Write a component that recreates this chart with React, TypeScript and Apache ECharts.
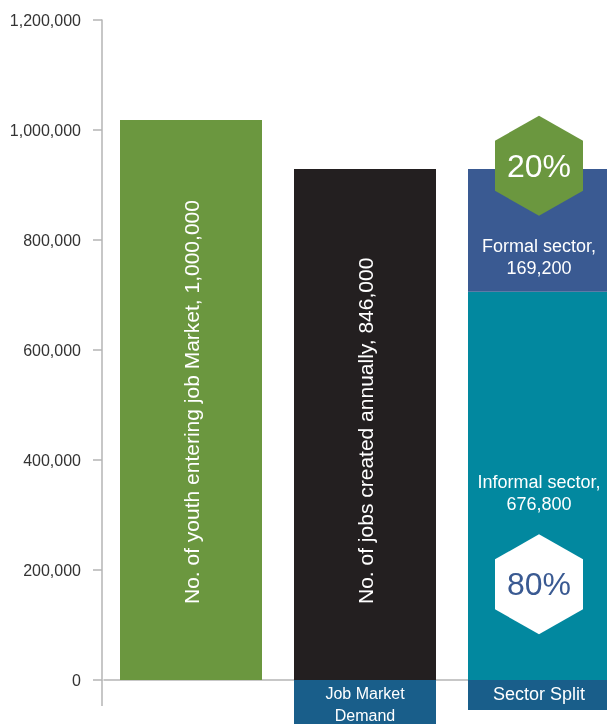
import React, { useEffect, useRef } from "react";
import * as echarts from "echarts";

// ---- data ----
const categories = ["Youth", "Job Market Demand", "Sector Split"];
const xLabelLines: string[][] = [[], ["Job Market", "Demand"], ["Sector Split"]];
const totalValues = [1018000, 929000]; // bar heights as drawn
const totalLabels = [
  "No. of youth entering job Market, 1,000,000",
  "No. of jobs created annually, 846,000",
];
const informalValue = 706000;
const formalValue = 223000;
const informalLabel = ["Informal sector,", "676,800"];
const formalLabel = ["Formal sector,", "169,200"];
const hexValues = [935000, 174000];
const hexLabels = ["20%", "80%"];
const yTicks = { min: 0, max: 1200000, interval: 200000 };

const GREEN = "#6b973f";
const BLACK = "#231f20";
const FORMAL = "#3a5a92";
const INFORMAL = "#02889f";
const BOX = "#195e8a";
const AXIS = "#b5b5b5";
const FONT = "'Liberation Sans', Arial, Helvetica, sans-serif";
const HEX = "path://M0,-50 L43.3,-25 L43.3,25 L0,50 L-43.3,25 L-43.3,-25 Z";

const GRID_LEFT = 104;
const Y_OFFSET = 2;

export default function App() {
  const ref = useRef<HTMLDivElement>(null);
  useEffect(() => {
    if (!ref.current) return;
    const chart = echarts.init(ref.current, null, { renderer: "svg" });
    const barColors = [GREEN, BLACK];
    const option: any = {
      animation: false,
      textStyle: { fontFamily: FONT },
      grid: {
        left: GRID_LEFT,
        right: 607 - (GRID_LEFT + 522),
        top: 20,
        bottom: 44,
        containLabel: false,
        outerBoundsMode: "none",
      },
      xAxis: {
        type: "category",
        data: categories,
        axisLine: { show: true, lineStyle: { color: AXIS, width: 1.5 } },
        axisTick: { show: false },
        axisLabel: {
          interval: 0,
          margin: 0,
          formatter: (v: string) => {
            const i = categories.indexOf(v);
            const lines = xLabelLines[i] || [];
            if (lines.length === 0) return "";
            if (lines.length === 1) return `{b|${lines[0]}}`;
            return `{a|${lines[0]}}\n{c|${lines[1]}}`;
          },
          rich: {
            a: { width: 142, height: 26, lineHeight: 26, backgroundColor: BOX, color: "#fff", fontSize: 16, align: "center", fontFamily: FONT },
            c: { width: 142, height: 18, lineHeight: 18, backgroundColor: BOX, color: "#fff", fontSize: 16, align: "center", fontFamily: FONT },
            b: { width: 142, height: 32, lineHeight: 28, backgroundColor: BOX, color: "#fff", fontSize: 18, align: "center", fontFamily: FONT },
          },
        },
      },
      yAxis: {
        type: "value",
        min: yTicks.min,
        max: yTicks.max,
        interval: yTicks.interval,
        offset: Y_OFFSET,
        splitLine: { show: false },
        axisLine: { show: true, lineStyle: { color: AXIS, width: 1.5 } },
        axisTick: { show: true, length: 9, lineStyle: { color: AXIS, width: 1.5 } },
        axisLabel: {
          margin: 21,
          color: "#333",
          fontSize: 16,
          fontFamily: FONT,
          formatter: (v: number) => v.toLocaleString("en-US"),
        },
      },
      series: [
        {
          type: "bar",
          barWidth: 142,
          barGap: "-100%",
          data: [
            ...totalValues.map((v, i) => ({
              value: v,
              itemStyle: { color: barColors[i] },
              label: {
                show: true,
                position: "insideBottom",
                distance: 76,
                rotate: 90,
                align: "left",
                verticalAlign: "middle",
                color: "#fff",
                fontSize: 21,
                fontFamily: FONT,
                formatter: totalLabels[i],
              },
            })),
            "-",
          ],
        },
        {
          type: "bar",
          stack: "split",
          barWidth: 142,
          barGap: "-100%",
          itemStyle: { color: INFORMAL },
          label: {
            show: true,
            position: ["50%", 201],
            align: "center",
            verticalAlign: "middle",
            color: "#fff",
            fontSize: 18,
            lineHeight: 22,
            fontFamily: FONT,
            formatter: informalLabel.join("\n"),
          },
          data: ["-", "-", informalValue],
        },
        {
          type: "bar",
          stack: "split",
          barWidth: 142,
          barGap: "-100%",
          itemStyle: { color: FORMAL },
          label: {
            show: true,
            position: ["50%", 88],
            align: "center",
            verticalAlign: "middle",
            color: "#fff",
            fontSize: 18,
            lineHeight: 22,
            fontFamily: FONT,
            formatter: formalLabel.join("\n"),
          },
          data: ["-", "-", formalValue],
        },
        {
          type: "scatter",
          z: 5,
          symbol: HEX,
          symbolSize: [88, 100],
          symbolKeepAspect: false,
          data: [
            {
              value: [categories[2], hexValues[0]],
              itemStyle: { color: GREEN, opacity: 1 },
              label: { show: true, position: "inside", formatter: hexLabels[0], color: "#fff", fontSize: 32, fontFamily: FONT },
            },
            {
              value: [categories[2], hexValues[1]],
              itemStyle: { color: "#ffffff", opacity: 1 },
              label: { show: true, position: "inside", formatter: hexLabels[1], color: FORMAL, fontSize: 32, fontFamily: FONT },
            },
          ],
        },
      ],
    };
    chart.setOption(option);
    const y0 = chart.convertToPixel({ yAxisIndex: 0 }, 0) as number;
    const ax = GRID_LEFT - Y_OFFSET;
    chart.setOption({
      graphic: [
        {
          type: "line",
          z: 10,
          shape: { x1: ax, y1: y0, x2: ax, y2: y0 + 26 },
          style: { stroke: AXIS, lineWidth: 1.5 },
        },
      ],
    });
    return () => chart.dispose();
  }, []);
  return <div ref={ref} style={{ position: "fixed", left: 0, top: 0, width: 607, height: 724 }} />;
}
